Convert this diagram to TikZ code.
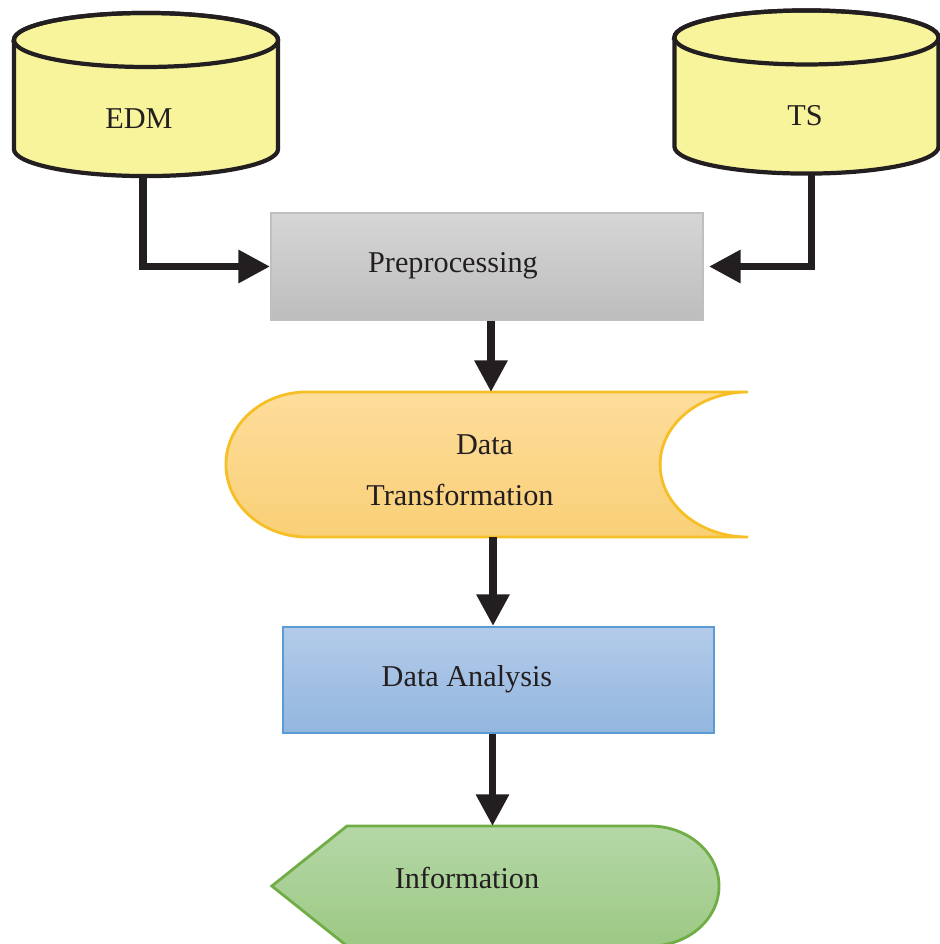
\documentclass[tikz,border=0pt]{standalone}
\usepackage{fontspec}
\setmainfont{Liberation Serif}
\usetikzlibrary{arrows.meta,positioning,shapes.geometric,calc}
\definecolor{cInk}{HTML}{231F20}
\definecolor{cDb}{HTML}{F8F49C}
\definecolor{cPrepTop}{HTML}{D6D6D6}
\definecolor{cPrepBot}{HTML}{BDBDBD}
\definecolor{cPrepEdge}{HTML}{BFBFBF}
\definecolor{cTrTop}{HTML}{FEDD9C}
\definecolor{cTrBot}{HTML}{F9D077}
\definecolor{cTrEdge}{HTML}{F6BF26}
\definecolor{cAnTop}{HTML}{B3CBE9}
\definecolor{cAnBot}{HTML}{93B6DF}
\definecolor{cAnEdge}{HTML}{5B9BD5}
\definecolor{cInTop}{HTML}{B5D7A7}
\definecolor{cInBot}{HTML}{9CC984}
\definecolor{cInEdge}{HTML}{70AD47}

% drum outline around a frame node: body, then the top rim
\newcommand{\drawdrum}[1]{%
  \path[dbline, fill=cDb] ($(#1.north west)+(0,27)$) -- ($(#1.south west)+(0,-27)$)
    arc[start angle=180, end angle=360, x radius=1.32cm, y radius=0.27cm]
    -- ($(#1.north east)+(0,27)$)
    arc[start angle=0, end angle=180, x radius=1.32cm, y radius=0.27cm] -- cycle;
  \path[dbline] ($(#1.north)+(0,27)$) ellipse[x radius=1.32cm, y radius=0.27cm];}

\begin{document}
\begin{tikzpicture}[
  x=0.01cm, y=-0.01cm,
  font=\fontsize{8.6}{14.5}\selectfont,
  >={Triangle[length=9pt,width=9pt]},
  frame/.style={inner sep=0pt, outer sep=0pt},
  db/.style={frame, minimum width=2.64cm, minimum height=1.63cm},
  dbline/.style={draw=cInk, line width=1.2pt},
  prepbox/.style={draw=cPrepEdge, line width=0.5pt, top color=cPrepTop,
             bottom color=cPrepBot, minimum width=4.32cm, minimum height=1.07cm},
  anbox/.style={draw=cAnEdge, line width=0.6pt, top color=cAnTop,
             bottom color=cAnBot, minimum width=4.31cm, minimum height=1.06cm},
  lbl/.style={text=cInk, inner sep=0pt, align=center},
  flow/.style={->, line width=2.1pt, draw=cInk},
]
\useasboundingbox (0,0) rectangle (940,944);

% ---- sources ----
\node[db] (edm) at (146,94.5) {};
\node[db] (ts) at (806.5,92) {};
\drawdrum{edm}
\drawdrum{ts}
\node[lbl] (edmtxt) at (139,119) {EDM};
\node[lbl] (tstxt) at (805,116) {TS};

% ---- preprocessing ----
\node[prepbox] (prep) at (487,266.5) {};
\node[lbl] (preptxt) at (453,266) {Preprocessing};

% ---- data transformation: round left end, hollow right end ----
\node[frame, minimum width=5.22cm, minimum height=1.45cm] (trans) at (487,464.5) {};
\path[draw=cTrEdge, line width=0.8pt, top color=cTrTop, bottom color=cTrBot]
  (307,392) -- (trans.north east)
  arc[start angle=90, end angle=270, x radius=0.88cm, y radius=0.725cm]
  -- (307,537)
  arc[start angle=270, end angle=90, x radius=0.81cm, y radius=0.725cm] -- cycle;
\node[lbl] (transtxt) at (460,470) {\hspace*{14pt}Data\\Transformation};

% ---- data analysis ----
\node[anbox] (ana) at (498.5,680) {};
\node[lbl] (anatxt) at (467,679) {Data Analysis};

% ---- information ----
\node[frame, minimum width=4.47cm, minimum height=1.2cm] (info) at (495.5,886) {};
\path[draw=cInEdge, line width=0.8pt, top color=cInTop, bottom color=cInBot]
  (info.west) -- (347,826) -- (650,826)
  arc[start angle=90, end angle=-90, x radius=0.69cm, y radius=0.6cm]
  -- (347,946) -- cycle;
\node[lbl] (infotxt) at (467,878) {Information};

% ---- connectors ----
\draw[flow] ($(edm.south)+(-3,0)$) |- (prep.west);
\draw[flow] ($(ts.south)+(5,0)$) |- ($(prep.east)+(5,0)$);
\draw[flow] ($(prep.south)+(4,0)$) -- ($(trans.north)+(4,0)$);
\draw[flow] ($(trans.south)+(6,0)$) -- ($(trans.south |- ana.north)+(6,0)$);
\draw[flow] ($(ana.south)+(-6,0)$) -- ($(ana.south |- info.north)+(-6,0)$);
\end{tikzpicture}
\end{document}
